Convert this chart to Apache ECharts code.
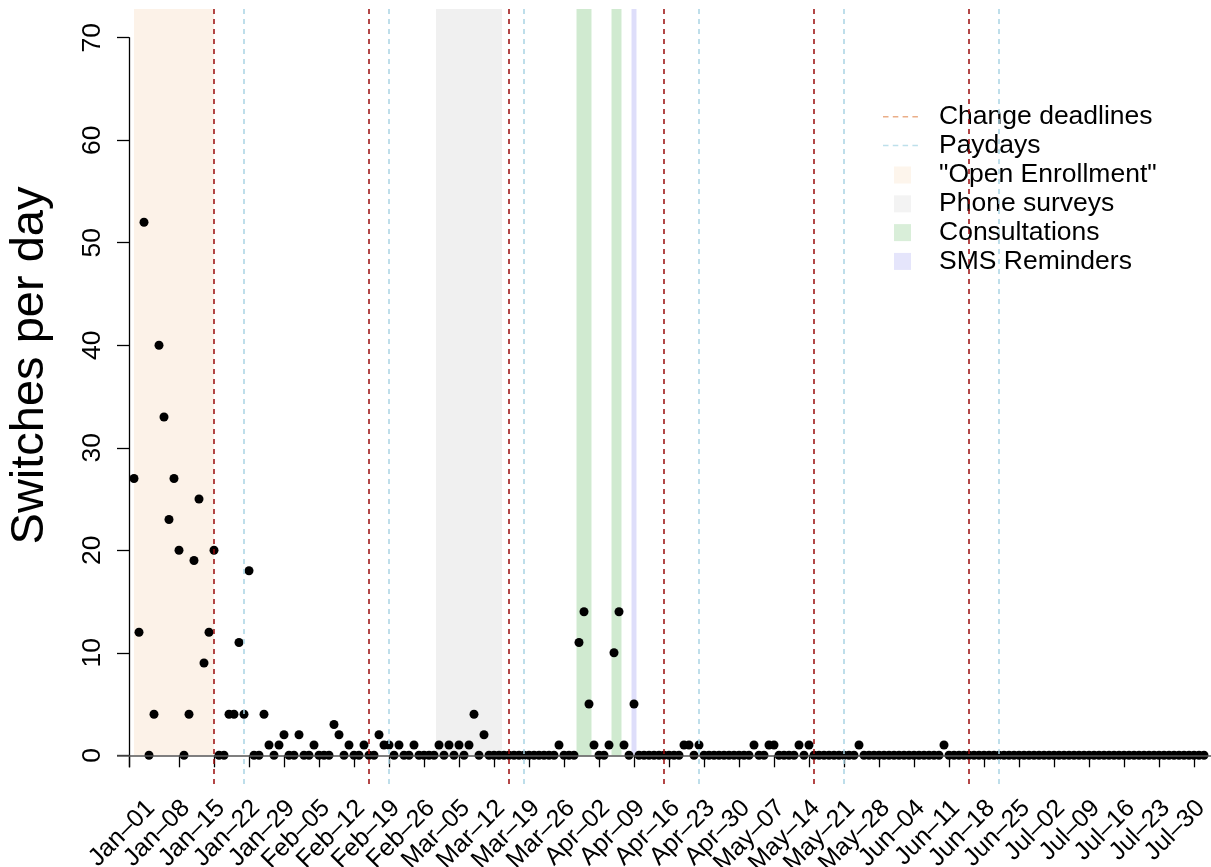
<!DOCTYPE html>
<html>
<head>
<meta charset="utf-8">
<title>Switches per day</title>
<script src="https://cdn.jsdelivr.net/npm/echarts@6/dist/echarts.min.js"></script>
<style>
  html, body { margin: 0; padding: 0; background: #ffffff; }
  #chart { width: 1211px; height: 867px; }
</style>
</head>
<body>
<div id="chart"></div>
<script>
// Daily switch counts; day 0 is Jan-01, the series starts two days earlier (Dec-30).
const firstDay = -2;
const decSwitches = [27, 12];
const janSwitches = [52, 0, 4, 40, 33, 23, 27, 20, 0, 4, 19, 25, 9, 12, 20, 0,
                     0, 4, 4, 11, 4, 18, 0, 0, 4, 1, 0, 1, 2, 0, 0];
const febSwitches = [2, 0, 0, 1, 0, 0, 0, 3, 2, 0, 1, 0, 0, 1, 0, 0, 2, 1, 1, 0,
                     1, 0, 0, 1, 0, 0, 0, 0];
const marSwitches = [1, 0, 1, 0, 1, 0, 1, 4, 0, 2, 0, 0, 0, 0, 0, 0, 0, 0, 0, 0,
                     0, 0, 0, 0, 1, 0, 0, 0, 11, 14, 5];
const aprSwitches = [1, 0, 0, 1, 10, 14, 1, 0, 5, 0, 0, 0, 0, 0, 0, 0, 0, 0, 1, 1,
                     0, 1, 0, 0, 0, 0, 0, 0, 0, 0];
const maySwitches = [0, 0, 1, 0, 0, 1, 1, 0, 0, 0, 0, 1, 0, 1, 0, 0, 0, 0, 0, 0,
                     0, 0, 0, 1, 0, 0, 0, 0, 0, 0, 0];
const junSwitches = [0, 0, 0, 0, 0, 0, 0, 0, 0, 1, 0, 0, 0, 0, 0, 0, 0, 0, 0, 0,
                     0, 0, 0, 0, 0, 0, 0, 0, 0, 0];
const julSwitches = [0, 0, 0, 0, 0, 0, 0, 0, 0, 0, 0, 0, 0, 0, 0, 0, 0, 0, 0, 0,
                     0, 0, 0, 0, 0, 0, 0, 0, 0, 0, 0];
const augSwitches = [0];

// Weekly tick labels, one every 7 days from Jan-01
const tickLabels = ['Jan–01', 'Jan–08', 'Jan–15', 'Jan–22', 'Jan–29', 'Feb–05', 'Feb–12',
  'Feb–19', 'Feb–26', 'Mar–05', 'Mar–12', 'Mar–19', 'Mar–26', 'Apr–02', 'Apr–09',
  'Apr–16', 'Apr–23', 'Apr–30', 'May–07', 'May–14', 'May–21', 'May–28', 'Jun–04',
  'Jun–11', 'Jun–18', 'Jun–25', 'Jul–02', 'Jul–09', 'Jul–16', 'Jul–23', 'Jul–30'];
const yTicks = [0, 10, 20, 30, 40, 50, 60, 70];

// Event days (days since Jan-01)
const changeDeadlines = [14, 45, 73, 104, 134, 165];   // 15th of each month
const paydays = [20, 49, 76, 111, 140, 171];
const openEnrollment = [[-2, 14]];
const phoneSurveys = [[58.4, 71.6]];
const consultations = [[86.5, 89.5], [93.5, 95.5]];
const smsReminders = [[97.5, 98.5]];

// ---- layout ----
const FONT = 'Liberation Sans, Arial, Helvetica, sans-serif';
const plot = { left: 117, top: 9, width: 1094, height: 775 };
const pxPerDay = 5, jan01X = 144;
const yLo = -2.8, yHi = 72.8;
const xLo = (plot.left - jan01X) / pxPerDay;
const xHi = xLo + plot.width / pxPerDay;
const pxPerUnit = plot.height / (yHi - yLo);
const zeroY = plot.top + yHi * pxPerUnit;
const axisDayLo = -3, axisDayHi = 210;
const frame = {
  left: jan01X + axisDayLo * pxPerDay,
  width: (axisDayHi - axisDayLo) * pxPerDay,
  top: zeroY - 70 * pxPerUnit,
  height: 70 * pxPerUnit
};

const values = [].concat(decSwitches, janSwitches, febSwitches, marSwitches,
  aprSwitches, maySwitches, junSwitches, julSwitches, augSwitches);
const points = values.map((v, i) => [firstDay + i, v]);

// Tick/label positions. The end entries are repeated because the axis drops its
// first and last label/tick when showMinLabel/showMaxLabel are false; this keeps
// every weekly label visible without the min/max overlap check hiding neighbours.
const labelDays = tickLabels.map((_, i) => 7 * i);
const labelValues = [labelDays[0]].concat(labelDays, [labelDays[labelDays.length - 1]]);
const tickValues = [axisDayLo, axisDayLo].concat(labelDays, [axisDayHi]);

function bands(list) {
  return list.map(([a, b]) => [{ xAxis: a, yAxis: 0 }, { xAxis: b, yAxis: yHi }]);
}
function areaSeries(name, list, color) {
  return {
    name, type: 'scatter', data: [], xAxisIndex: 0, yAxisIndex: 0, z: 3, silent: true,
    markArea: { silent: true, itemStyle: { color }, data: bands(list) }
  };
}
function lineSeries(name, days, color) {
  return {
    name, type: 'scatter', data: [], xAxisIndex: 0, yAxisIndex: 0, z: 4, silent: true,
    markLine: {
      silent: true, symbol: ['none', 'none'], label: { show: false },
      lineStyle: { color, width: 1.5, type: [5, 5] },
      data: days.map(d => ({ xAxis: d }))
    }
  };
}

const dashIcon = 'path://M0,0h5.5v1.5h-5.5z M9.8,0h5.5v1.5h-5.5z M19.6,0h5.5v1.5h-5.5z M29.4,0h5.5v1.5h-5.5z';
const legendText = { fontFamily: FONT, fontSize: 26.5, color: '#000', lineHeight: 28.8 };

const chart = echarts.init(document.getElementById('chart'), null, { renderer: 'canvas' });
chart.setOption({
  animation: false,
  backgroundColor: '#ffffff',
  textStyle: { fontFamily: FONT },
  grid: [
    { left: plot.left, top: plot.top, width: plot.width, height: plot.height,
      containLabel: false, outerBoundsMode: 'none' },
    { left: frame.left, top: frame.top, width: frame.width, height: frame.height,
      containLabel: false, outerBoundsMode: 'none' }
  ],
  xAxis: [
    { type: 'value', gridIndex: 0, min: xLo, max: xHi, show: false },
    {
      type: 'value', gridIndex: 1, min: axisDayLo, max: axisDayHi, position: 'bottom',
      axisLine: { show: false, onZero: false }, splitLine: { show: false },
      axisTick: { show: true, length: 12, customValues: tickValues,
        lineStyle: { color: '#000', width: 1.3 } },
      axisLabel: {
        customValues: labelValues, rotate: 45, margin: 42, align: 'right', verticalAlign: 'top',
        fontFamily: FONT, fontSize: 25, lineHeight: 20, color: '#000',
        showMinLabel: false, showMaxLabel: false, hideOverlap: false,
        formatter: v => tickLabels[Math.round(v / 7)]
      }
    }
  ],
  yAxis: [
    { type: 'value', gridIndex: 0, min: yLo, max: yHi, show: false },
    {
      type: 'value', gridIndex: 1, min: 0, max: 70, interval: 10, position: 'left',
      axisLine: { show: true, onZero: false, lineStyle: { color: '#000', width: 1.3 } },
      axisTick: { show: true, length: 12, lineStyle: { color: '#000', width: 1.3 } },
      splitLine: { show: false },
      axisLabel: {
        rotate: 90, margin: 23, align: 'center', verticalAlign: 'bottom',
        fontFamily: FONT, fontSize: 26.5, color: '#000',
        formatter: v => (yTicks.indexOf(v) >= 0 ? String(v) : '')
      },
      name: 'Switches per day', nameLocation: 'middle', nameRotate: 90, nameGap: 99,
      nameTextStyle: { fontFamily: FONT, fontSize: 47, color: '#000',
        align: 'center', verticalAlign: 'middle', padding: [0, 0, 0, 62] }
    }
  ],
  legend: [
    {
      orient: 'vertical', left: 883, top: 102.3, padding: 0, itemGap: 0,
      itemWidth: 35, itemHeight: 1.5, selectedMode: false,
      textStyle: Object.assign({ padding: [0, 0, 0, 16] }, legendText),
      data: [
        { name: 'Change deadlines', icon: dashIcon, itemStyle: { color: '#e59a6a', borderWidth: 0 } },
        { name: 'Paydays', icon: dashIcon, itemStyle: { color: '#add8e6', borderWidth: 0 } }
      ]
    },
    {
      orient: 'vertical', left: 894, top: 160.6, padding: 0, itemGap: 0,
      itemWidth: 17, itemHeight: 17, selectedMode: false,
      textStyle: Object.assign({ padding: [0, 0, 0, 23] }, legendText),
      data: [
        { name: '"Open Enrollment"', icon: 'rect', itemStyle: { color: '#fdf2e7', borderWidth: 0 } },
        { name: 'Phone surveys', icon: 'rect', itemStyle: { color: '#f0f0f0', borderWidth: 0 } },
        { name: 'Consultations', icon: 'rect', itemStyle: { color: '#cfeacf', borderWidth: 0 } },
        { name: 'SMS Reminders', icon: 'rect', itemStyle: { color: '#dedefa', borderWidth: 0 } }
      ]
    }
  ],
  series: [
    {
      name: 'zero line', type: 'scatter', data: [], xAxisIndex: 0, yAxisIndex: 0, z: 1, silent: true,
      markLine: {
        silent: true, symbol: ['none', 'none'], label: { show: false },
        lineStyle: { color: '#555', width: 1.5, type: 'solid' },
        data: [{ yAxis: 0 }]
      }
    },
    {
      name: 'Switches', type: 'scatter', xAxisIndex: 0, yAxisIndex: 0, z: 2,
      symbol: 'circle', symbolSize: 9,
      itemStyle: { color: '#000', opacity: 1 },
      data: points
    },
    areaSeries('"Open Enrollment"', openEnrollment, 'rgba(240,180,120,0.17)'),
    areaSeries('Phone surveys', phoneSurveys, 'rgba(180,180,180,0.2)'),
    areaSeries('Consultations', consultations, 'rgba(20,150,20,0.2)'),
    areaSeries('SMS Reminders', smsReminders, 'rgba(90,90,230,0.2)'),
    lineSeries('Change deadlines', changeDeadlines, '#9b0a0a'),
    lineSeries('Paydays', paydays, '#a9d4e4')
  ]
});
</script>
</body>
</html>
